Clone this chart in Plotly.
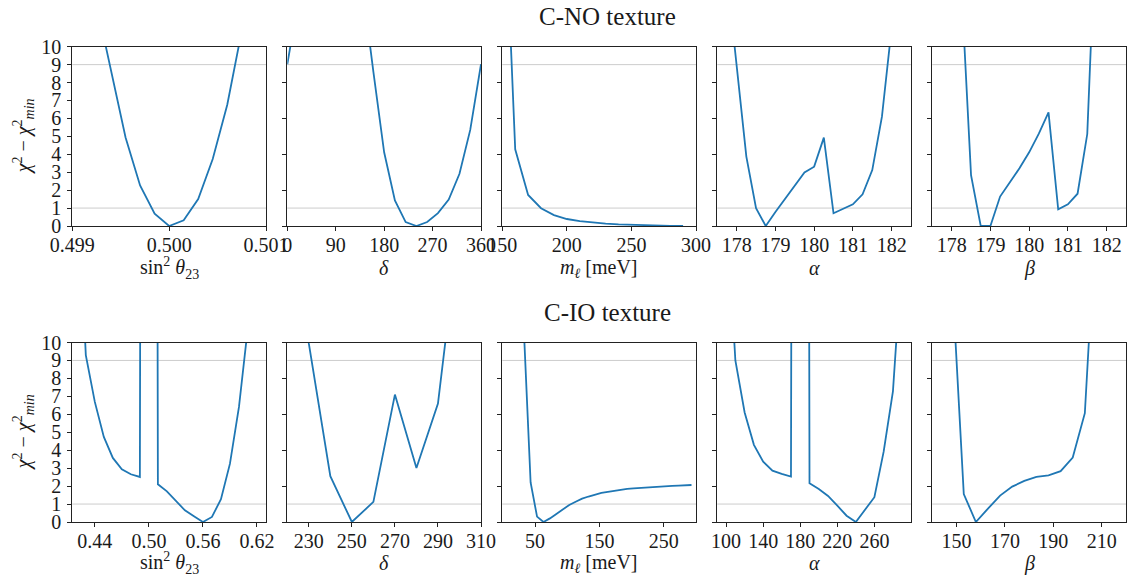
import plotly.graph_objects as go

# ---------------- data ----------------
# C-NO texture
no_s23 = [0.49925, 0.4994, 0.49955, 0.4997, 0.49985, 0.5000, 0.50015, 0.5003, 0.50045, 0.5006, 0.50075]
no_s23_chi = [12.4, 8.6, 4.94, 2.26, 0.69, 0.0, 0.32, 1.5, 3.74, 6.76, 10.9]

no_delta = [0, 20, 40, 60, 80, 100, 120, 140, 160, 180, 200, 220, 240, 260, 280, 300, 320, 340, 360]
no_delta_chi = [9.02, 12.9, 17.0, 21.0, 23.0, 22.0, 18.0, 13.3, 8.6, 4.11, 1.43, 0.22, 0.0, 0.22, 0.72, 1.47, 2.91, 5.36, 9.02]

no_mass = [150, 160, 170, 180, 190, 200, 210, 220, 230, 240, 250, 260, 270, 280, 290]
no_mass_chi = [21.6, 4.28, 1.73, 0.99, 0.61, 0.39, 0.27, 0.19, 0.13, 0.09, 0.06, 0.04, 0.02, 0.01, 0.0]

no_alpha = [177.75, 178.0, 178.25, 178.5, 178.75, 179.0, 179.25, 179.5, 179.75, 180.0,
            180.25, 180.5, 180.75, 181.0, 181.25, 181.5, 181.75, 182.0, 182.25]
no_alpha_chi = [14.0, 8.8, 3.87, 0.99, 0.0, 0.78, 1.5, 2.22, 2.99, 3.31,
                4.93, 0.71, 0.95, 1.21, 1.77, 3.12, 6.1, 10.7, 16.0]

no_beta = [177.75, 178.0, 178.25, 178.5, 178.75, 179.0, 179.25, 179.5, 179.75, 180.0,
           180.25, 180.5, 180.75, 181.0, 181.25, 181.5, 181.75, 182.0, 182.25]
no_beta_chi = [40.0, 25.0, 13.4, 2.84, 0.0, 0.0, 1.64, 2.4, 3.22, 4.11,
               5.15, 6.34, 0.93, 1.21, 1.8, 5.13, 16.2, 30.0, 45.0]

# C-IO texture
io_s23 = [0.42, 0.43, 0.44, 0.45, 0.46, 0.47, 0.48, 0.49, 0.50, 0.51, 0.52,
          0.53, 0.54, 0.55, 0.56, 0.57, 0.58, 0.59, 0.60, 0.61, 0.62]
io_s23_chi = [20.0, 9.3, 6.69, 4.74, 3.57, 2.94, 2.66, 2.51, 250.0, 2.1, 1.71,
              1.17, 0.65, 0.32, 0.0, 0.28, 1.27, 3.25, 6.41, 10.9, 20.0]

io_delta = [220, 230, 240, 250, 260, 270, 280, 290, 300]
io_delta_chi = [20.0, 9.95, 2.55, 0.0, 1.12, 7.1, 3.01, 6.6, 16.6]

io_mass = [23, 33, 43, 53, 63, 73, 83, 93, 103, 113, 123, 133, 143, 153,
           163, 173, 183, 193, 203, 213, 223, 233, 243, 253, 263, 273, 283, 293]
io_mass_chi = [25.0, 10.3, 2.2, 0.3, 0.0, 0.2, 0.45, 0.72, 0.95, 1.13, 1.3, 1.42, 1.53, 1.62,
               1.68, 1.74, 1.79, 1.84, 1.87, 1.9, 1.93, 1.95, 1.97, 1.99, 2.01, 2.03, 2.04, 2.06]

io_alpha = [100, 110, 120, 130, 140, 150, 160, 170, 180, 190,
            200, 210, 220, 230, 240, 250, 260, 270, 280, 290]
io_alpha_chi = [18.0, 9.0, 6.1, 4.3, 3.36, 2.86, 2.68, 2.53, 250.0, 2.16,
                1.84, 1.45, 0.91, 0.35, 0.0, 0.68, 1.38, 3.92, 7.27, 15.0]

io_beta = [143, 148, 153, 158, 163, 168, 173, 178, 183, 188, 193, 198, 203, 208, 213]
io_beta_chi = [30.0, 14.0, 1.56, 0.0, 0.75, 1.47, 1.97, 2.29, 2.51, 2.6, 2.83, 3.59, 6.06, 15.0, 30.0]

# reference levels (1 sigma, 3 sigma)
ref_levels = [1, 9]

row_titles = ["C-NO texture", "C-IO texture"]
x_labels = ["sin<sup>2</sup> <i>θ</i><sub>23</sub>", "<i>δ</i>",
            "<i>m</i><sub><i>ℓ</i></sub> [meV]", "<i>α</i>", "<i>β</i>"]
y_label = "<i>χ</i><sup>2</sup> − <i>χ</i><sup>2</sup><sub><i>min</i></sub>"

panels = [
    # top row
    dict(x=no_s23, y=no_s23_chi, range=[0.499, 0.501],
         tickvals=[0.499, 0.500, 0.501], ticktext=["0.499", "0.500", "0.501"]),
    dict(x=no_delta, y=no_delta_chi, range=[0, 360],
         tickvals=[0, 90, 180, 270, 360], ticktext=None),
    dict(x=no_mass, y=no_mass_chi, range=[150, 300],
         tickvals=[150, 200, 250, 300], ticktext=None),
    dict(x=no_alpha, y=no_alpha_chi, range=[177.5, 182.5],
         tickvals=[178, 179, 180, 181, 182], ticktext=None),
    dict(x=no_beta, y=no_beta_chi, range=[177.5, 182.5],
         tickvals=[178, 179, 180, 181, 182], ticktext=None),
    # bottom row
    dict(x=io_s23, y=io_s23_chi, range=[0.415, 0.63],
         tickvals=[0.44, 0.50, 0.56, 0.62], ticktext=["0.44", "0.50", "0.56", "0.62"]),
    dict(x=io_delta, y=io_delta_chi, range=[220, 310],
         tickvals=[230, 250, 270, 290, 310], ticktext=None),
    dict(x=io_mass, y=io_mass_chi, range=[-1, 300],
         tickvals=[50, 150, 250], ticktext=None),
    dict(x=io_alpha, y=io_alpha_chi, range=[90.5, 299.5],
         tickvals=[100, 140, 180, 220, 260], ticktext=None),
    dict(x=io_beta, y=io_beta_chi, range=[140, 220],
         tickvals=[150, 170, 190, 210], ticktext=None),
]

# ---------------- layout geometry (pixels) ----------------
W, H = 1135, 577
col_px = [(72.3, 266.0), (287.3, 481.0), (502.3, 696.0), (717.3, 911.0), (932.3, 1126.0)]
row_px = [(46.7, 226.0), (342.5, 522.0)]
title_y_px = [17, 312]
xlabel_y_px = [268, 563]

FONT = "Liberation Serif"
INK = "#1a1a1a"
LINE = "#1f77b4"

def px_x(v):
    return v / W

def px_y(v):
    return 1 - v / H

fig = go.Figure()
layout = dict(
    width=W, height=H, margin=dict(l=0, r=0, t=0, b=0, pad=0, autoexpand=False),
    paper_bgcolor="white", plot_bgcolor="white", showlegend=False,
    font=dict(family=FONT, size=20, color=INK),
)
annotations = []
shapes = []

for i, p in enumerate(panels):
    r, c = divmod(i, 5)
    n = i + 1
    xa = "x" if n == 1 else f"x{n}"
    ya = "y" if n == 1 else f"y{n}"
    fig.add_trace(go.Scatter(x=p["x"], y=p["y"], mode="lines",
                             line=dict(color=LINE, width=1.8),
                             xaxis=xa, yaxis=ya, hoverinfo="skip"))
    x0, x1 = col_px[c]
    y0, y1 = row_px[r]
    xkey = "xaxis" if n == 1 else f"xaxis{n}"
    ykey = "yaxis" if n == 1 else f"yaxis{n}"
    xaxis = dict(domain=[px_x(x0), px_x(x1)], anchor=ya, range=p["range"],
                 tickmode="array", tickvals=p["tickvals"], automargin=False,
                 showline=True, mirror=True, linecolor="#222", linewidth=1,
                 ticks="outside", ticklen=4, tickwidth=1, tickcolor="#222",
                 showgrid=False, zeroline=False,
                 tickfont=dict(family=FONT, size=20, color=INK),
                 ticklabelstandoff=-3)
    if p["ticktext"] is not None:
        xaxis["ticktext"] = p["ticktext"]
    first_col = c == 0
    yaxis = dict(domain=[px_y(y1), px_y(y0)], anchor=xa, range=[0, 10],
                 tickmode="array", automargin=False,
                 tickvals=list(range(0, 11)) if first_col else list(range(0, 11, 2)),
                 showticklabels=first_col,
                 showline=True, mirror=True, linecolor="#222", linewidth=1,
                 ticks="outside", ticklen=4, tickwidth=1, tickcolor="#222",
                 showgrid=False, zeroline=False,
                 tickfont=dict(family=FONT, size=20, color=INK),
                 ticklabelstandoff=2)
    layout[xkey] = xaxis
    layout[ykey] = yaxis

    for lv in ref_levels:
        shapes.append(dict(type="line", xref=f"{xa} domain", yref=ya,
                           x0=0, x1=1, y0=lv, y1=lv, layer="below",
                           line=dict(color="#cccccc", width=1)))

    annotations.append(dict(text=x_labels[c], x=px_x((x0 + x1) / 2), y=px_y(xlabel_y_px[r]),
                            xref="paper", yref="paper", showarrow=False,
                            xanchor="center", yanchor="middle",
                            font=dict(family=FONT, size=20, color=INK)))

for r in range(2):
    y0, y1 = row_px[r]
    annotations.append(dict(text=y_label, x=px_x(24), y=px_y((y0 + y1) / 2),
                            xref="paper", yref="paper", showarrow=False, textangle=-90,
                            xanchor="center", yanchor="middle",
                            font=dict(family=FONT, size=20, color=INK)))
    annotations.append(dict(text=row_titles[r], x=px_x(607), y=px_y(title_y_px[r]),
                            xref="paper", yref="paper", showarrow=False,
                            xanchor="center", yanchor="middle",
                            font=dict(family=FONT, size=25, color=INK)))

layout["annotations"] = annotations
layout["shapes"] = shapes
fig.update_layout(**layout)
fig.write_html("out.html")
